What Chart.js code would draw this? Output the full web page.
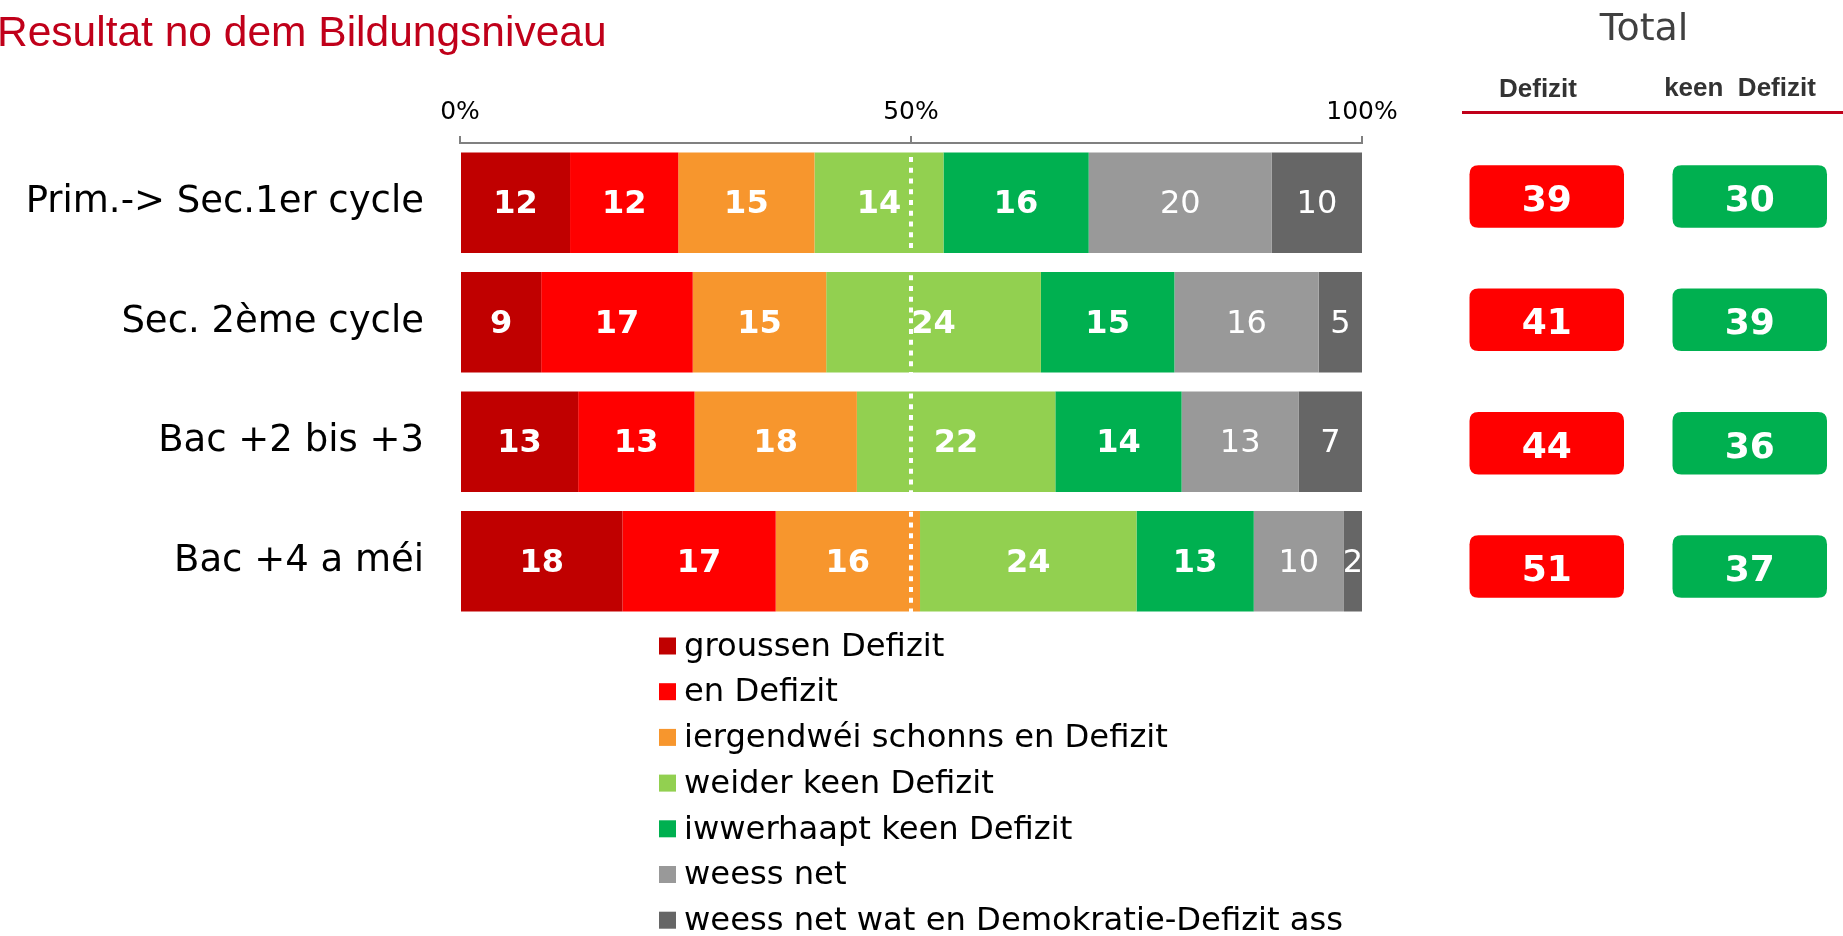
<!DOCTYPE html>
<html>
<head>
<meta charset="utf-8">
<script src="https://cdn.jsdelivr.net/npm/chart.js@4.4.1/dist/chart.umd.min.js"></script>
<style>
html,body{margin:0;padding:0;background:#fff;overflow:hidden;}
canvas{display:block;}
</style>
</head>
<body>
<canvas id="c" width="1843" height="936"></canvas>
<script>
// ---- data ----
const categories = ["Prim.-> Sec.1er cycle", "Sec. 2ème cycle", "Bac +2 bis +3", "Bac +4 a méi"];
const seriesNames = [
  "groussen Defizit",
  "en Defizit",
  "iergendwéi schonns en Defizit",
  "weider keen Defizit",
  "iwwerhaapt keen Defizit",
  "weess net",
  "weess net wat en Demokratie-Defizit ass"
];
const seriesColors = ["#C00000", "#FF0000", "#F7962D", "#92D050", "#00B050", "#999999", "#666666"];
const groussenDefizit   = [12.2,  9.0, 13.1, 18.0];
const enDefizit         = [12.0, 16.8, 12.9, 17.0];
const iergendweiDefizit = [15.1, 14.8, 18.0, 16.0];
const weiderKeenDefizit = [14.3, 23.8, 22.0, 24.0];
const iwwerhaaptKeen    = [16.1, 14.8, 14.0, 13.0];
const weessNet          = [20.3, 16.0, 13.0, 10.0];
const weessNetWat       = [10.0,  4.8,  7.0,  2.0];
const totalDefizit      = [39, 41, 44, 51];
const totalKeenDefizit  = [30, 39, 36, 37];
const xTickValues = [0, 50, 100];
const titleText = "Resultat no dem Bildungsniveau";
const totalTitle = "Total";
const totalHeaders = ["Defizit", "keen  Defizit"];

const seriesData = [groussenDefizit, enDefizit, iergendweiDefizit, weiderKeenDefizit, iwwerhaaptKeen, weessNet, weessNetWat];

// ---- plugins ----
const valueLabels = {
  id: 'valueLabels',
  afterDatasetsDraw(chart) {
    const ctx = chart.ctx, ca = chart.chartArea;
    ctx.save();
    ctx.beginPath();
    ctx.rect(ca.left, ca.top, ca.right - ca.left, ca.bottom - ca.top);
    ctx.clip();
    ctx.fillStyle = '#FFFFFF';
    ctx.textAlign = 'center';
    ctx.textBaseline = 'middle';
    chart.data.datasets.forEach((ds, di) => {
      const meta = chart.getDatasetMeta(di);
      ctx.font = (di < 5 ? 'bold ' : '') + '32px "DejaVu Sans"';
      meta.data.forEach((bar, i) => {
        const v = ds.data[i];
        const cx = (bar.x + bar.base) / 2;
        ctx.fillText(String(Math.round(v)), cx, bar.y + 2);
      });
    });
    ctx.restore();
  }
};

function roundRect(ctx, x, y, w, h, r) {
  ctx.beginPath();
  ctx.moveTo(x + r, y);
  ctx.lineTo(x + w - r, y);
  ctx.quadraticCurveTo(x + w, y, x + w, y + r);
  ctx.lineTo(x + w, y + h - r);
  ctx.quadraticCurveTo(x + w, y + h, x + w - r, y + h);
  ctx.lineTo(x + r, y + h);
  ctx.quadraticCurveTo(x, y + h, x, y + h - r);
  ctx.lineTo(x, y + r);
  ctx.quadraticCurveTo(x, y, x + r, y);
  ctx.closePath();
}

const extras = {
  id: 'extras',
  afterDraw(chart) {
    const ctx = chart.ctx;
    const yScale = chart.scales.y, xScale = chart.scales.x;
    const ca = chart.chartArea;
    ctx.save();
    // title
    ctx.font = '42.5px "Liberation Sans"';
    ctx.fillStyle = '#C0001A';
    ctx.textAlign = 'left';
    ctx.textBaseline = 'alphabetic';
    ctx.fillText(titleText, -3, 46);

    // Total panel
    ctx.font = '38px "DejaVu Sans"';
    ctx.fillStyle = '#404040';
    ctx.textAlign = 'center';
    ctx.fillText(totalTitle, 1644, 40);
    ctx.font = 'bold 26px "Liberation Sans"';
    ctx.fillStyle = '#333333';
    ctx.fillText(totalHeaders[0], 1538, 96.5);
    ctx.fillText(totalHeaders[1], 1740, 95.5);
    ctx.fillStyle = '#C0001A';
    ctx.fillRect(1462, 111, 381, 3);

    const cols = [
      {vals: totalDefizit, color: '#FF0000', x: 1469.5},
      {vals: totalKeenDefizit, color: '#00B050', x: 1672.5}
    ];
    const bw = 154.5, bh = 62.5;
    const mid = (ca.top + ca.bottom) / 2;
    categories.forEach((c, i) => {
      const cy = mid + (yScale.getPixelForValue(i) - mid) * 1.032 - 0.5;
      cols.forEach(col => {
        ctx.fillStyle = col.color;
        roundRect(ctx, col.x, cy - bh / 2, bw, bh, 9);
        ctx.fill();
        ctx.fillStyle = '#FFFFFF';
        ctx.font = 'bold 36px "DejaVu Sans"';
        ctx.textAlign = 'center';
        ctx.textBaseline = 'alphabetic';
        ctx.fillText(String(col.vals[i]), col.x + bw / 2, cy + 14.5);
      });
    });

    // legend (vertical list)
    const items = Chart.defaults.plugins.legend.labels.generateLabels(chart);
    ctx.textAlign = 'left';
    ctx.textBaseline = 'alphabetic';
    ctx.font = '32.2px "DejaVu Sans"';
    items.forEach((it, i) => {
      const cy = 646 + i * 45.7;
      ctx.fillStyle = it.fillStyle;
      ctx.fillRect(659, cy - 8.5, 17, 17);
      ctx.fillStyle = '#000000';
      ctx.fillText(it.text, 684, cy + 9.7);
    });

    // dotted 50% line
    const x50 = xScale.getPixelForValue(50);
    ctx.strokeStyle = '#FFFFFF';
    ctx.lineWidth = 4;
    ctx.setLineDash([5, 5.75]);
    ctx.beginPath();
    ctx.moveTo(x50, ca.top + 14);
    ctx.lineTo(x50, 646);
    ctx.stroke();
    ctx.restore();
  }
};

// ---- chart ----
new Chart(document.getElementById('c').getContext('2d'), {
  type: 'bar',
  data: {
    labels: categories,
    datasets: seriesNames.map((n, i) => ({
      label: n,
      data: seriesData[i],
      backgroundColor: seriesColors[i],
      borderWidth: 0,
      barPercentage: 0.842,
      categoryPercentage: 1
    }))
  },
  options: {
    indexAxis: 'y',
    responsive: false,
    animation: false,
    devicePixelRatio: 1,
    layout: {padding: {left: 0, right: 481, top: 0, bottom: 315}},
    plugins: {
      legend: {display: false},
      tooltip: {enabled: false},
      title: {display: false}
    },
    scales: {
      x: {
        stacked: true,
        position: 'top',
        min: 0,
        max: 100,
        afterBuildTicks: s => { s.ticks = xTickValues.map(v => ({value: v})); },
        ticks: {
          callback: v => v + '%',
          font: {family: 'DejaVu Sans', size: 25},
          color: '#000000',
          padding: 9,
          maxRotation: 0,
          autoSkip: false
        },
        grid: {drawOnChartArea: false, drawTicks: true, tickLength: 7, color: '#808080', lineWidth: 2},
        border: {display: true, color: '#808080', width: 2},
        afterFit: s => { s.height = 143; }
      },
      y: {
        stacked: true,
        ticks: {font: {family: 'DejaVu Sans', size: 37}, color: '#000000', padding: 36},
        grid: {display: false, drawTicks: false},
        border: {display: false},
        afterFit: s => { s.width = 460; }
      }
    }
  },
  plugins: [valueLabels, extras]
});
</script>
</body>
</html>
